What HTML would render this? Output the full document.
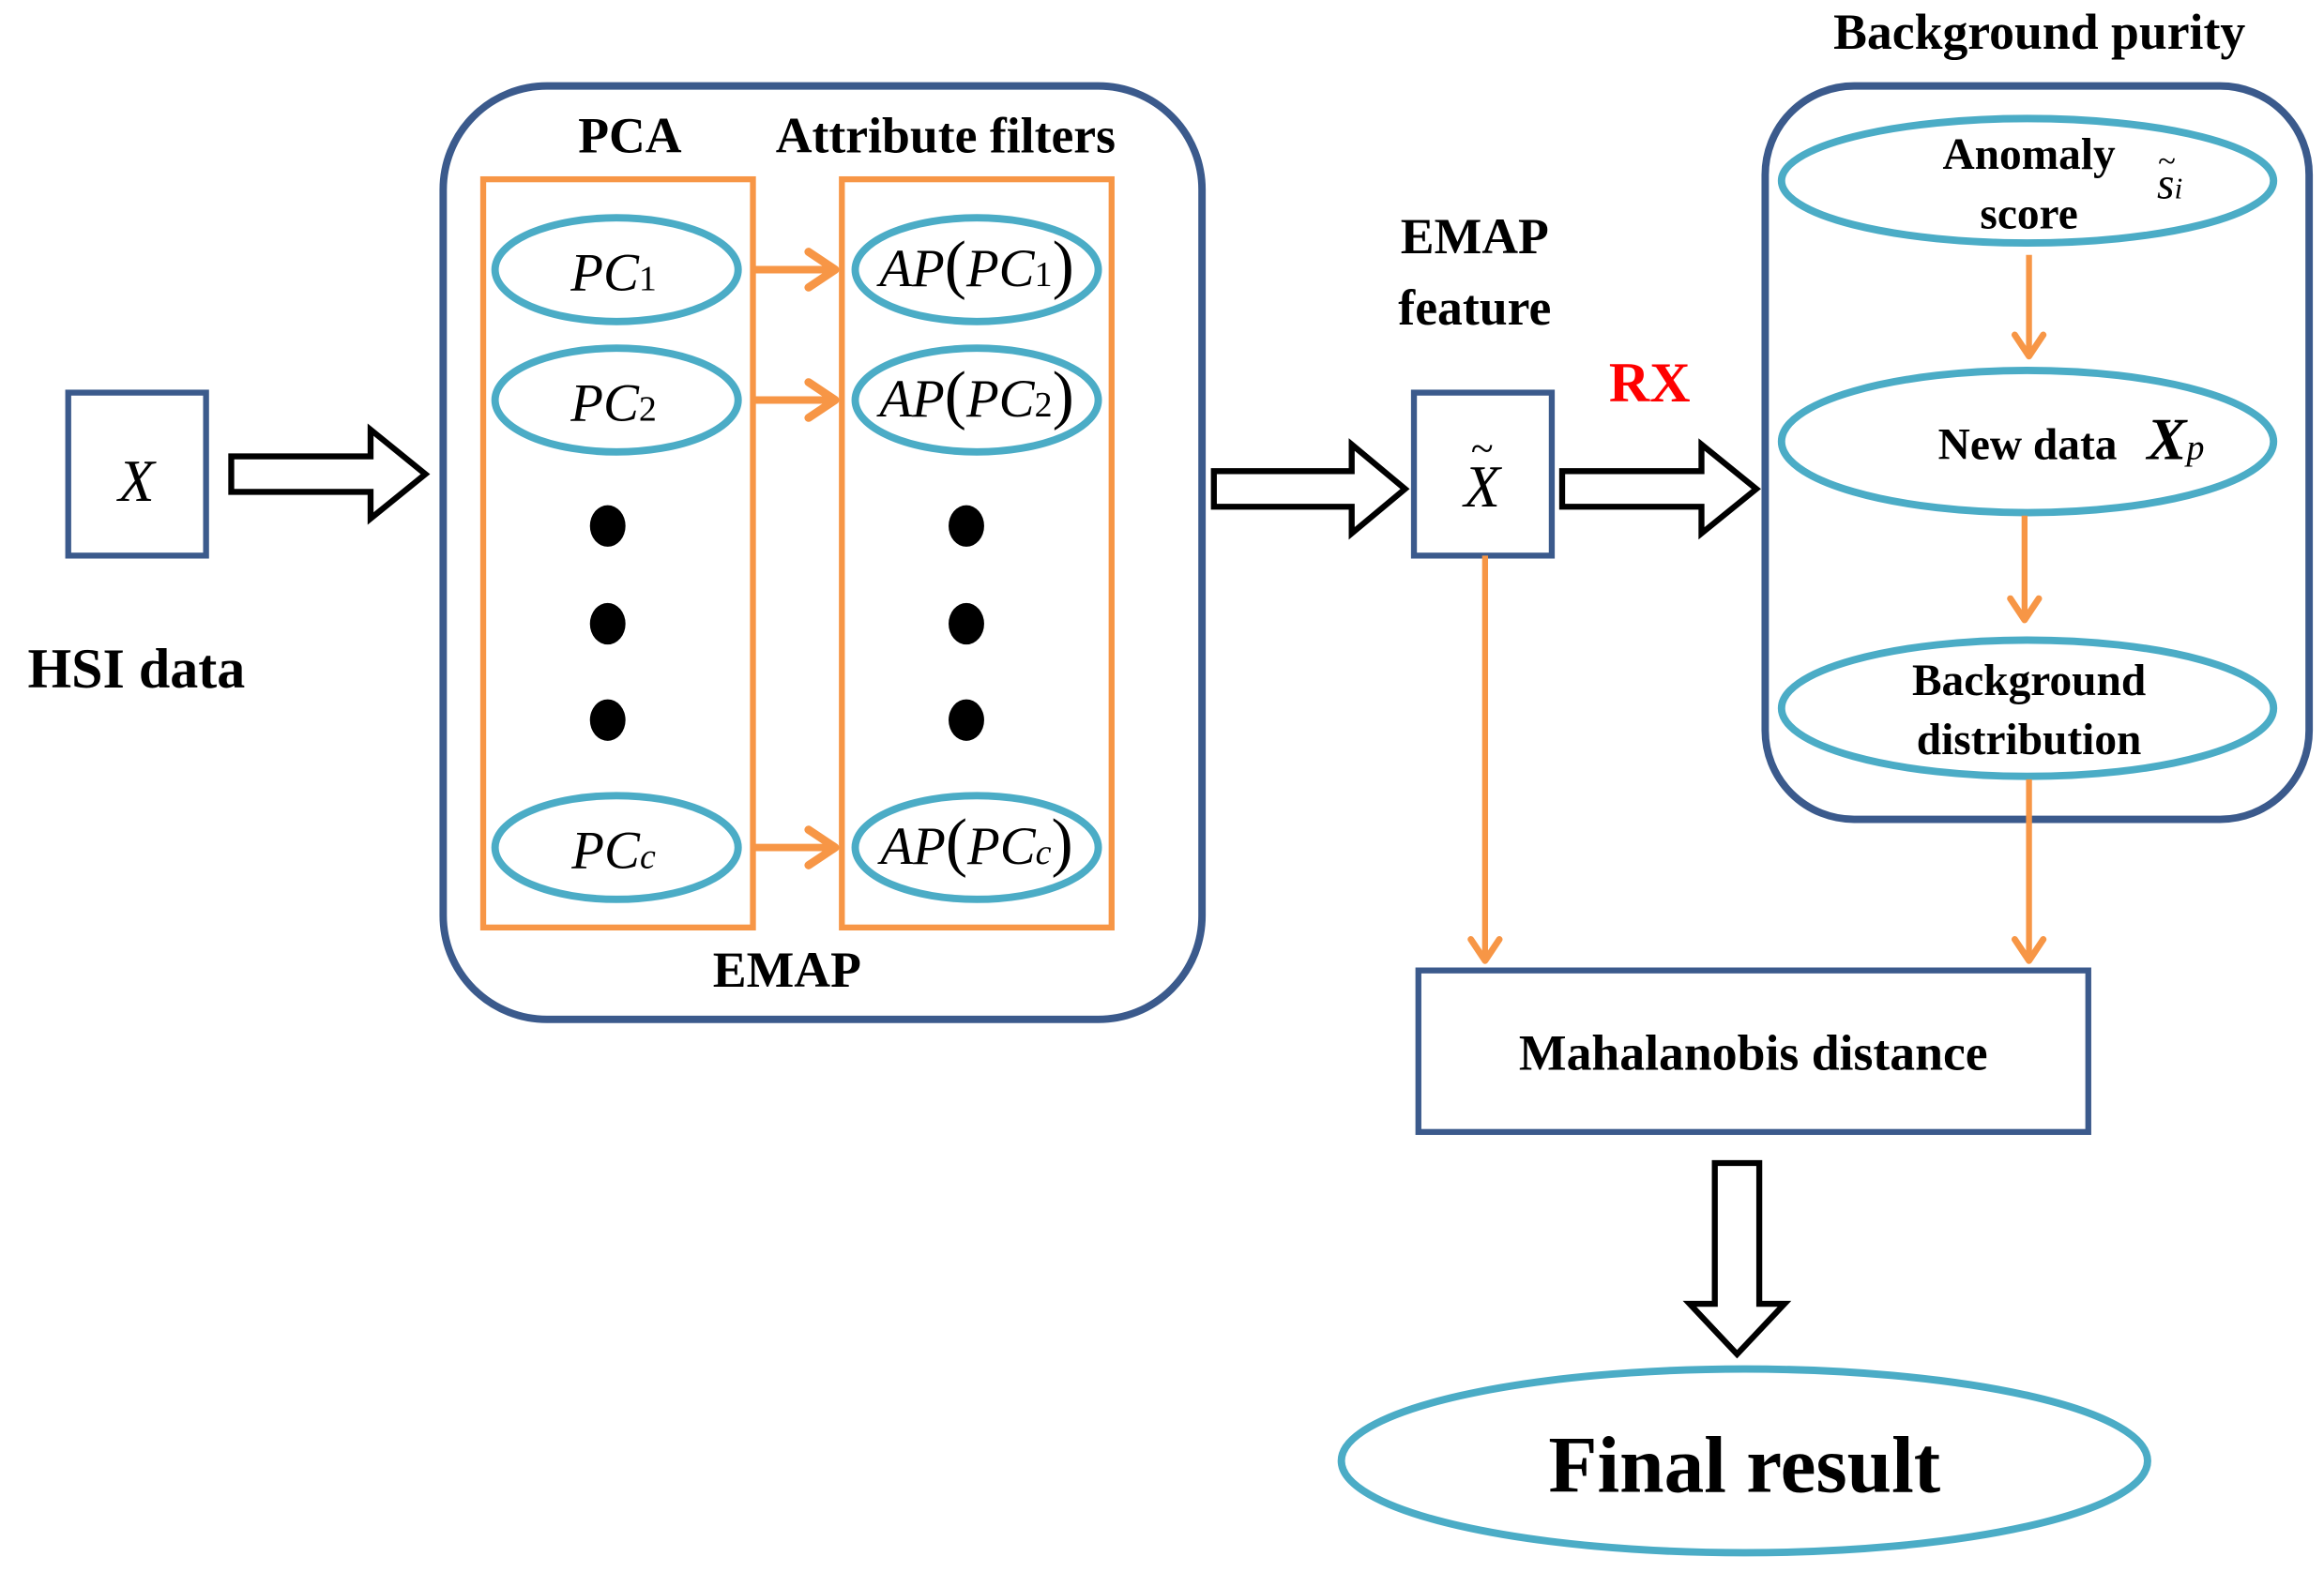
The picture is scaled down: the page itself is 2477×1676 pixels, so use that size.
<!DOCTYPE html>
<html><head><style>html,body{margin:0;padding:0;background:#fff}svg{display:block}</style></head>
<body>
<svg width="2477" height="1676" viewBox="0 0 1568 1061" xmlns="http://www.w3.org/2000/svg">
<defs>
<marker id="oa" markerWidth="6" markerHeight="6" refX="4.5" refY="3" orient="auto" markerUnits="strokeWidth">
<path d="M1,0.6 L4.6,3 L1,5.4" fill="none" stroke="#f79646" stroke-width="1.1" stroke-linecap="round" stroke-linejoin="round"/>
</marker>
</defs>
<g font-family="'Liberation Serif',serif" font-weight="bold" fill="#000" text-anchor="middle">
<!-- X box -->
<rect x="46" y="265" width="93" height="110" fill="none" stroke="#3b5a8c" stroke-width="4"/>
<text x="92" y="338" font-size="40" font-style="italic" font-weight="normal">X</text>
<text x="92" y="464" font-size="38">HSI data</text>
<!-- hollow arrow 1 -->
<path d="M156,308 L250,308 L250,290 L287,320 L250,350 L250,332 L156,332 Z" fill="#fff" stroke="#000" stroke-width="4"/>
<!-- EMAP container -->
<rect x="299" y="58" width="512" height="630" rx="70" fill="none" stroke="#3b5a8c" stroke-width="5"/>
<text x="425" y="103" font-size="34">PCA</text>
<text x="638" y="103" font-size="34">Attribute filters</text>
<text x="531" y="666" font-size="34">EMAP</text>
<rect x="326" y="121" width="182" height="505" fill="none" stroke="#f79646" stroke-width="4"/>
<rect x="568" y="121" width="182" height="505" fill="none" stroke="#f79646" stroke-width="4"/>
<g fill="none" stroke="#4bacc6" stroke-width="5">
<ellipse cx="416" cy="182" rx="82" ry="35"/><ellipse cx="416" cy="270" rx="82" ry="35"/><ellipse cx="416" cy="572" rx="82" ry="35"/>
<ellipse cx="659" cy="182" rx="82" ry="35"/><ellipse cx="659" cy="270" rx="82" ry="35"/><ellipse cx="659" cy="572" rx="82" ry="35"/>
</g>
<g font-style="italic" font-weight="normal" font-size="36">
<text x="414" y="196">PC<tspan font-size="24" font-style="normal">1</tspan></text>
<text x="414" y="284">PC<tspan font-size="24" font-style="normal">2</tspan></text>
<text x="414" y="586">PC<tspan font-size="24" font-style="italic">c</tspan></text>
<text x="659" y="193">AP<tspan font-style="normal" font-size="44">(</tspan>PC<tspan font-size="24" font-style="normal">1</tspan><tspan font-style="normal" font-size="44">)</tspan></text>
<text x="659" y="281">AP<tspan font-style="normal" font-size="44">(</tspan>PC<tspan font-size="24" font-style="normal">2</tspan><tspan font-style="normal" font-size="44">)</tspan></text>
<text x="659" y="583">AP<tspan font-style="normal" font-size="44">(</tspan>PC<tspan font-size="24">c</tspan><tspan font-style="normal" font-size="44">)</tspan></text>
</g>
<g stroke="#f79646" stroke-width="5" fill="none" marker-end="url(#oa)">
<line x1="507" y1="182" x2="563" y2="182"/><line x1="507" y1="270" x2="563" y2="270"/><line x1="507" y1="572" x2="563" y2="572"/>
</g>
<g fill="#000">
<ellipse cx="410" cy="355" rx="12" ry="14"/><ellipse cx="410" cy="421" rx="12" ry="14"/><ellipse cx="410" cy="486" rx="12" ry="14"/>
<ellipse cx="652" cy="355" rx="12" ry="14"/><ellipse cx="652" cy="421" rx="12" ry="14"/><ellipse cx="652" cy="486" rx="12" ry="14"/>
</g>
<!-- hollow arrow 2 -->
<path d="M819,318 L912,318 L912,300 L948,330 L912,360 L912,342 L819,342 Z" fill="#fff" stroke="#000" stroke-width="4"/>
<text x="995" y="171" font-size="34">EMAP</text>
<text x="995" y="219" font-size="34">feature</text>
<rect x="954" y="265" width="93" height="110" fill="none" stroke="#3b5a8c" stroke-width="4"/>
<text x="1000" y="342" font-size="40" font-style="italic" font-weight="normal">X</text>
<text x="1000" y="312" font-size="28" font-weight="normal">~</text>
<text x="1113" y="271" font-size="38" fill="#ff0000">RX</text>
<path d="M1054,318 L1148,318 L1148,300 L1185,330 L1148,360 L1148,342 L1054,342 Z" fill="#fff" stroke="#000" stroke-width="4"/>
<!-- background purity -->
<text x="1376" y="33" font-size="34">Background purity</text>
<rect x="1191" y="58" width="367" height="495" rx="60" fill="none" stroke="#3b5a8c" stroke-width="5"/>
<g fill="none" stroke="#4bacc6" stroke-width="5">
<ellipse cx="1368" cy="122" rx="166" ry="42"/>
<ellipse cx="1368" cy="298" rx="166" ry="48"/>
<ellipse cx="1368" cy="478" rx="166" ry="46"/>
</g>
<text x="1369" y="114" font-size="30">Anomaly</text>
<text x="1369" y="154" font-size="30">score</text>
<text x="1464" y="134" font-size="30" font-style="italic" font-weight="normal">s<tspan font-size="20">i</tspan></text>
<text x="1462" y="116" font-size="22" font-weight="normal">~</text>
<text x="1368" y="310" font-size="30">New data</text>
<text x="1468" y="310" font-size="40" font-style="italic">X<tspan font-size="24" font-weight="normal">p</tspan></text>
<text x="1369" y="469" font-size="30">Background</text>
<text x="1369" y="509" font-size="30">distribution</text>
<g stroke="#f79646" stroke-width="4" fill="none" marker-end="url(#oa)">
<line x1="1369" y1="172" x2="1369" y2="240"/>
<line x1="1366" y1="348" x2="1366" y2="418"/>
<line x1="1369" y1="526" x2="1369" y2="648"/>
<line x1="1002" y1="375" x2="1002" y2="648"/>
</g>
<rect x="957" y="655" width="452" height="109" fill="none" stroke="#3b5a8c" stroke-width="4"/>
<text x="1183" y="722" font-size="34">Mahalanobis distance</text>
<path d="M1157,785 L1187,785 L1187,880 L1204,880 L1172,914 L1140,880 L1157,880 Z" fill="#fff" stroke="#000" stroke-width="4"/>
<ellipse cx="1177" cy="986" rx="272" ry="62" fill="none" stroke="#4bacc6" stroke-width="5"/>
<text x="1177" y="1007" font-size="54">Final result</text>
</g>
</svg>
</body></html>
